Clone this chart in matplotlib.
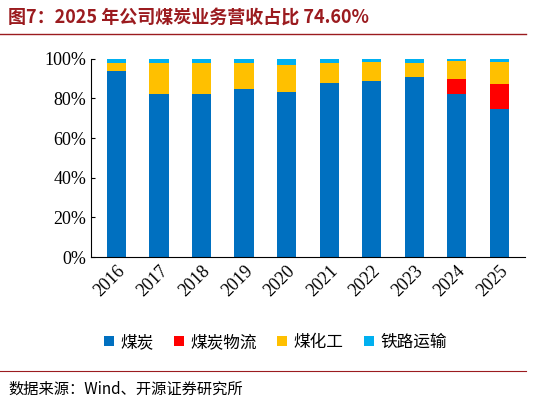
import matplotlib
matplotlib.use("Agg")
import matplotlib.pyplot as plt
import numpy as np

years = ["2016","2017","2018","2019","2020","2021","2022","2023","2024","2025"]
coal      = [94.0, 82.0, 82.0, 84.5, 83.0, 88.0, 89.0, 91.0, 82.0, 74.6]
coal_flow = [0, 0, 0, 0, 0, 0, 0, 0, 8.0, 12.6]
coal_chem = [4.0, 16.0, 16.0, 13.5, 14.0, 10.0, 9.5, 7.0, 9.0, 11.3]
rail      = [2.0, 2.0, 2.0, 2.0, 3.0, 2.0, 1.5, 2.0, 1.0, 1.5]

serif = ["Liberation Serif", "Noto Sans CJK SC"]
cjk = ["Noto Sans CJK SC", "DejaVu Sans"]

fig = plt.figure(figsize=(5.51, 4.05), dpi=100)
ax = fig.add_axes([0.165, 0.365, 0.7875, 0.49])
x = np.arange(len(years))
w = 0.45
b = np.zeros(len(years))
for vals, col, lab in [(coal, "#0070C0", "煤炭"), (coal_flow, "#FF0000", "煤炭物流"),
                       (coal_chem, "#FFC000", "煤化工"), (rail, "#00B0F0", "铁路运输")]:
    ax.bar(x, vals, w, bottom=b, color=col, label=lab)
    b += np.array(vals)

ax.set_ylim(0, 100)
ax.set_xlim(-0.6, len(years) - 0.4)
ax.set_yticks(range(0, 101, 20))
ax.set_yticklabels([f"{v}%" for v in range(0, 101, 20)], fontsize=13, family=serif)
ax.set_xticks(x)
ax.set_xticklabels(years, rotation=45, fontsize=13, family=serif, ha="right", rotation_mode="anchor")
for s in ["top", "right"]:
    ax.spines[s].set_visible(False)
ax.tick_params(axis="x", length=0)
ax.tick_params(axis="y", direction="in", length=3)

leg = fig.legend(loc="center", bbox_to_anchor=(0.5, 0.155), ncol=4, frameon=False,
                 prop={"family": cjk, "size": 12}, handlelength=0.6, handleheight=0.6,
                 columnspacing=1.2, handletextpad=0.4)

fig.text(0.015, 0.955, "图7：2025 年公司煤炭业务营收占比 74.60%", fontsize=13, weight="bold",
         color="#9B1B1F", family=["Noto Sans CJK SC", "DejaVu Sans"], va="center")
fig.add_artist(plt.Line2D([0.0, 0.955], [0.915, 0.915], color="#9B1B1F", lw=1))
fig.add_artist(plt.Line2D([0.0, 0.955], [0.085, 0.085], color="#9B1B1F", lw=0.8))
fig.text(0.015, 0.04, "数据来源：Wind、开源证券研究所", fontsize=11, family=cjk, va="center")
fig.savefig("out.png", dpi=100)
